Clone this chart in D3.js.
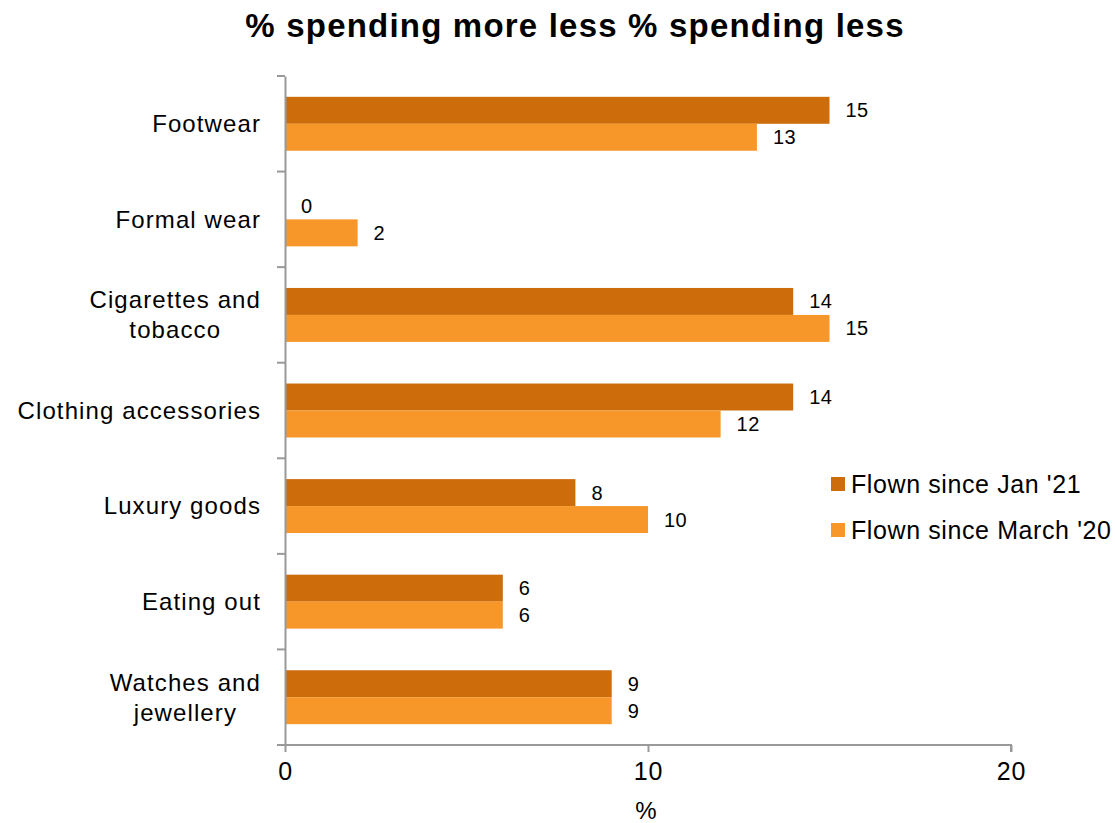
<!DOCTYPE html>
<html>
<head>
<meta charset="utf-8">
<script src="https://cdn.jsdelivr.net/npm/d3@7"></script>
<style>
  body { margin: 0; background: #fff; }
  text { font-family: "Liberation Sans", Arial, sans-serif; fill: #000; }
</style>
</head>
<body>
<svg id="chart" width="1115" height="823"></svg>
<script>
const categories = [
  ["Footwear"],
  ["Formal wear"],
  ["Cigarettes and", "tobacco"],
  ["Clothing accessories"],
  ["Luxury goods"],
  ["Eating out"],
  ["Watches and", "jewellery"]
];
const seriesNames = ["Flown since Jan '21", "Flown since March '20"];
const janValues = [15, 0, 14, 14, 8, 6, 9];
const marchValues = [13, 2, 15, 12, 10, 6, 9];
const xTicks = [0, 10, 20];
const colors = ["#CC6C0A", "#F79629"];

const svg = d3.select("#chart");
const margin = { left: 285, right: 1011, top: 76, bottom: 745 };

const x = d3.scaleLinear().domain([0, 20]).range([margin.left, margin.right]);
const keys = categories.map((c, i) => i);
const y = d3.scaleBand().domain(keys).range([margin.top, margin.bottom]).paddingInner(0).paddingOuter(0);
const inner = d3.scaleBand().domain([0, 1]).range([0, y.bandwidth()]).paddingInner(0).paddingOuter(0.772);

const series = [janValues, marchValues];

// bars
series.forEach((vals, s) => {
  svg.append("g").selectAll("rect").data(vals).join("rect")
    .attr("x", x(0))
    .attr("y", (d, i) => y(i) + inner(s))
    .attr("width", d => x(d) - x(0))
    .attr("height", inner.bandwidth())
    .attr("fill", colors[s]);
  svg.append("g").selectAll("text").data(vals).join("text")
    .attr("x", d => x(d) + 16)
    .attr("y", (d, i) => y(i) + inner(s) + inner.bandwidth() / 2)
    .attr("dy", "0.35em")
    .attr("font-size", 20)
    .attr("letter-spacing", 0.5)
    .text(d => d);
});

// y axis
const yAxis = d3.axisLeft(y).tickSize(0).tickFormat("");
const gy = svg.append("g").attr("transform", `translate(${margin.left},0)`).call(yAxis);
gy.select(".domain").attr("stroke", "#999").attr("stroke-width", 2);
const boundaries = keys.map(k => y(k)).concat([margin.bottom]);
svg.append("g").selectAll("line").data(boundaries).join("line")
  .attr("x1", margin.left - 8).attr("x2", margin.left)
  .attr("y1", d => d).attr("y2", d => d)
  .attr("stroke", "#999").attr("stroke-width", 2);

// category labels: block right-aligned at 261, lines centred within block
const catG = svg.append("g");
categories.forEach((lines, i) => {
  const cy = y(i) + y.bandwidth() / 2;
  const lh = 30;
  const nodes = lines.map((ln, j) => catG.append("text")
      .attr("y", cy + (j - (lines.length - 1) / 2) * lh)
      .attr("dy", "0.35em")
      .attr("text-anchor", "middle")
      .attr("font-size", 24)
      .attr("letter-spacing", 1.1)
      .text(ln));
  const maxW = d3.max(nodes, n => n.node().getComputedTextLength());
  nodes.forEach(n => n.attr("x", 261 - maxW / 2));
});

// x axis
const xAxis = d3.axisBottom(x).tickValues(xTicks).tickSize(7).tickPadding(10);
const gx = svg.append("g").attr("transform", `translate(0,${margin.bottom})`).call(xAxis);
gx.select(".domain").attr("stroke", "#999").attr("stroke-width", 2).attr("d", `M${x(0)},0H${x(20)}V7`);
gx.selectAll(".tick line").attr("stroke", "#999").attr("stroke-width", 2);
gx.selectAll(".tick text").attr("font-size", 25).attr("fill", "#000").attr("letter-spacing", 0.8)
  .attr("font-family", "Liberation Sans, Arial, sans-serif");

svg.append("text").attr("x", x(10) - 2).attr("y", 819)
  .attr("text-anchor", "middle").attr("font-size", 24).text("%");

// title
svg.append("text").attr("x", 575).attr("y", 37)
  .attr("text-anchor", "middle").attr("font-size", 33).attr("font-weight", "bold")
  .attr("letter-spacing", 1.2)
  .text("% spending more less % spending less");

// legend
const leg = svg.append("g");
seriesNames.forEach((n, i) => {
  const ly = 484 + i * 46;
  leg.append("rect").attr("x", 831).attr("y", ly - 7).attr("width", 14).attr("height", 14).attr("fill", colors[i]);
  leg.append("text").attr("x", 851).attr("y", ly).attr("dy", "0.35em").attr("font-size", 25)
    .attr("letter-spacing", 0.6).text(n);
});
</script>
</body>
</html>
